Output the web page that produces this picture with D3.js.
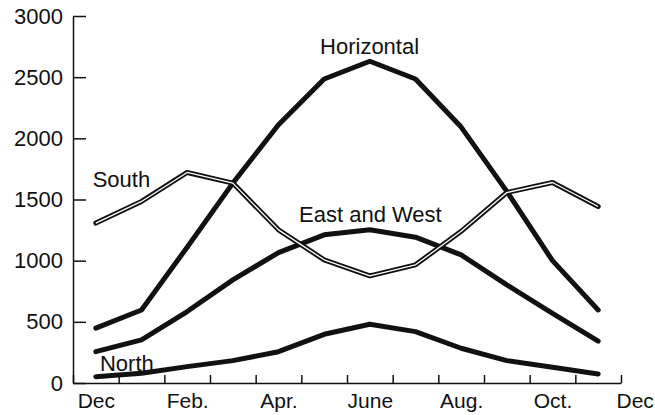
<!DOCTYPE html>
<html>
<head>
<meta charset="utf-8">
<script src="https://cdn.jsdelivr.net/npm/d3@7"></script>
<style>
  body { margin: 0; background: #fff; }
  svg { display: block; font-family: "Liberation Sans", Arial, sans-serif; }
  .axis path, .axis line { stroke: #111; stroke-width: 1.5; }
  .axis text { fill: #111; }
  .label { fill: #111; font-size: 22px; }
</style>
</head>
<body>
<svg width="655" height="415"></svg>
<script>
// monthly values, plotted at mid-month (Dec .. Nov)
const horizontal = [448, 597, 1110, 1634, 2111, 2485, 2630, 2485, 2092, 1566, 1000, 597];
const eastWest = [256, 352, 584, 843, 1066, 1211, 1252, 1192, 1047, 802, 570, 342];
const south = [1307, 1484, 1721, 1634, 1252, 1007, 876, 966, 1240, 1557, 1639, 1443];
const north = [52, 79, 134, 183, 256, 398, 480, 420, 284, 183, 128, 74];

const monthLabels = ["Dec", "Feb.", "Apr.", "June", "Aug.", "Oct.", "Dec"];
const monthLabelAt = [0.5, 2.5, 4.5, 6.5, 8.5, 10.5, 12.3];
const yTicks = [0, 500, 1000, 1500, 2000, 2500, 3000];

// series names and where their names sit (month, value)
const seriesNames = ["Horizontal", "South", "East and West", "North"];
const nameAt = [[5.41, 2689], [0.43, 1605], [4.95, 1312], [0.59, 100]];

const svg = d3.select("svg");
const w = 655, h = 415;
const margin = { top: 16, right: 34, bottom: 32, left: 73 };

const x = d3.scaleLinear().domain([0, 12]).range([margin.left, w - margin.right]);
const y = d3.scaleLinear().domain([0, 3000]).range([h - margin.bottom, margin.top]);

// x axis: month boundary ticks pointing inward
svg.append("g")
  .attr("class", "axis")
  .attr("transform", `translate(0,${h - margin.bottom})`)
  .call(d3.axisBottom(x).tickValues(d3.range(0, 13)).tickSize(-8).tickSizeOuter(0).tickFormat(""));

// month names between the ticks
svg.append("g")
  .attr("class", "axis")
  .attr("transform", `translate(0,${h - margin.bottom})`)
  .call(d3.axisBottom(x).tickValues(monthLabelAt).tickSize(0).tickPadding(10)
    .tickFormat((d, i) => monthLabels[i]))
  .call((g) => g.select(".domain").remove())
  .selectAll("text")
  .attr("font-size", 21);

svg.append("g")
  .attr("class", "axis")
  .attr("transform", `translate(${margin.left},0)`)
  .call(d3.axisLeft(y).tickValues(yTicks).tickSize(-13).tickSizeOuter(0).tickPadding(10)
    .tickFormat(d3.format("d")))
  .selectAll("text")
  .attr("font-size", 22);

const line = d3.line()
  .x((d, i) => x(i + 0.5))
  .y((d) => y(d));

const solid = [horizontal, eastWest, north];
svg.selectAll("path.series")
  .data(solid)
  .join("path")
  .attr("class", "series")
  .attr("d", line)
  .attr("fill", "none")
  .attr("stroke", "#111")
  .attr("stroke-width", 5)
  .attr("stroke-linejoin", "round")
  .attr("stroke-linecap", "round");

// south is drawn as a hollow (double) line on top
svg.append("path")
  .attr("d", line(south))
  .attr("fill", "none")
  .attr("stroke", "#111")
  .attr("stroke-width", 5)
  .attr("stroke-linejoin", "round")
  .attr("stroke-linecap", "round");
svg.append("path")
  .attr("d", line(south))
  .attr("fill", "none")
  .attr("stroke", "#fff")
  .attr("stroke-width", 1.3)
  .attr("stroke-linejoin", "round");

svg.selectAll("text.label")
  .data(seriesNames)
  .join("text")
  .attr("class", "label")
  .attr("x", (d, i) => x(nameAt[i][0]))
  .attr("y", (d, i) => y(nameAt[i][1]))
  .text((d) => d);
</script>
</body>
</html>
